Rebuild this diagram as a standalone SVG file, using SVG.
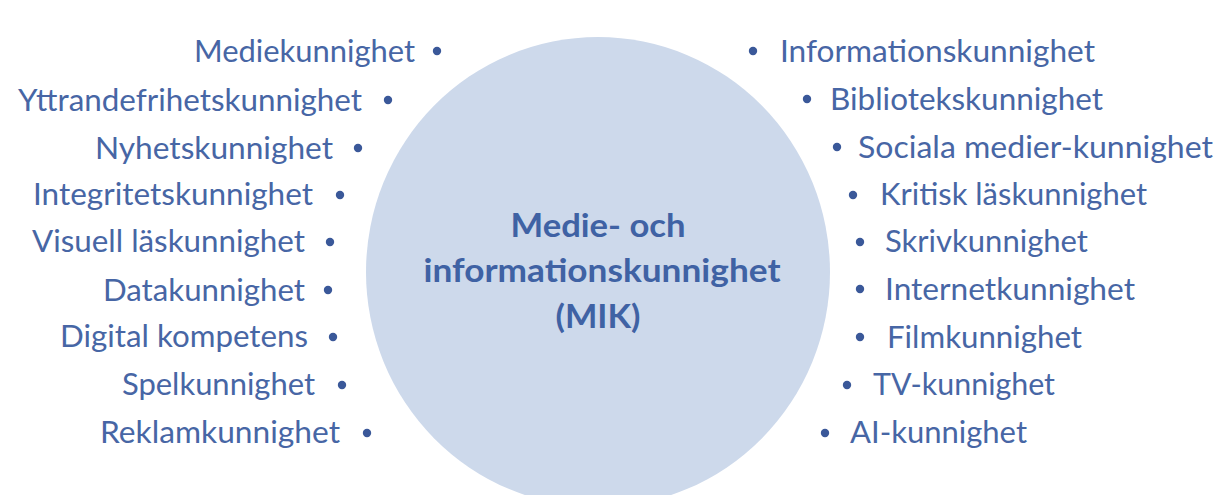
<svg xmlns="http://www.w3.org/2000/svg" width="1223" height="495" viewBox="0 0 1223 495">
<style>
.t{font-family:Lato,"Open Sans","Liberation Sans",sans-serif;font-size:30px;fill:#4766a5}
.l{text-anchor:end}
.b{fill:#3a5899}
.title{font-family:Lato,"Open Sans","Liberation Sans",sans-serif;font-size:32px;font-weight:bold;fill:#3f62a4;text-anchor:middle}
</style>
<rect width="1223" height="495" fill="#ffffff"/>
<g id="center">
<ellipse cx="598" cy="272" rx="232" ry="235" fill="#cdd9eb"/>
<text class="title" x="598" y="237" textLength="175" lengthAdjust="spacingAndGlyphs">Medie- och</text>
<text class="title" x="602" y="282" textLength="357" lengthAdjust="spacingAndGlyphs">informationskunnighet</text>
<text class="title" x="598" y="328" textLength="85" lengthAdjust="spacingAndGlyphs">(MIK)</text>
</g>
<g id="left-items">
<g id="l1"><text class="t l" x="415" y="62" textLength="221" lengthAdjust="spacingAndGlyphs">Mediekunnighet</text><circle class="b" cx="437" cy="51" r="4.2"/></g>
<g id="l2"><text class="t l" x="362" y="111" textLength="344" lengthAdjust="spacingAndGlyphs">Yttrandefrihetskunnighet</text><circle class="b" cx="388" cy="100" r="4.2"/></g>
<g id="l3"><text class="t l" x="333" y="159" textLength="238" lengthAdjust="spacingAndGlyphs">Nyhetskunnighet</text><circle class="b" cx="358" cy="148" r="4.2"/></g>
<g id="l4"><text class="t l" x="313" y="205" textLength="280" lengthAdjust="spacingAndGlyphs">Integritetskunnighet</text><circle class="b" cx="340" cy="195" r="4.2"/></g>
<g id="l5"><text class="t l" x="305" y="252" textLength="273" lengthAdjust="spacingAndGlyphs">Visuell läskunnighet</text><circle class="b" cx="330" cy="242" r="4.2"/></g>
<g id="l6"><text class="t l" x="305" y="301" textLength="202" lengthAdjust="spacingAndGlyphs">Datakunnighet</text><circle class="b" cx="328" cy="290" r="4.2"/></g>
<g id="l7"><text class="t l" x="308" y="347" textLength="248" lengthAdjust="spacingAndGlyphs">Digital kompetens</text><circle class="b" cx="333" cy="337" r="4.2"/></g>
<g id="l8"><text class="t l" x="315" y="395" textLength="193" lengthAdjust="spacingAndGlyphs">Spelkunnighet</text><circle class="b" cx="342" cy="385" r="4.2"/></g>
<g id="l9"><text class="t l" x="340" y="443" textLength="240" lengthAdjust="spacingAndGlyphs">Reklamkunnighet</text><circle class="b" cx="367" cy="433" r="4.2"/></g>
</g>
<g id="right-items">
<g id="r1"><circle class="b" cx="753" cy="51" r="4.2"/><text class="t" x="780" y="62" textLength="315" lengthAdjust="spacingAndGlyphs">Informationskunnighet</text></g>
<g id="r2"><circle class="b" cx="807" cy="99" r="4.2"/><text class="t" x="830" y="110" textLength="273" lengthAdjust="spacingAndGlyphs">Bibliotekskunnighet</text></g>
<g id="r3"><circle class="b" cx="837" cy="147" r="4.2"/><text class="t" x="858" y="158" textLength="355" lengthAdjust="spacingAndGlyphs">Sociala medier-kunnighet</text></g>
<g id="r4"><circle class="b" cx="853" cy="195" r="4.2"/><text class="t" x="880" y="205" textLength="267" lengthAdjust="spacingAndGlyphs">Kritisk läskunnighet</text></g>
<g id="r5"><circle class="b" cx="860" cy="242" r="4.2"/><text class="t" x="885" y="252" textLength="203" lengthAdjust="spacingAndGlyphs">Skrivkunnighet</text></g>
<g id="r6"><circle class="b" cx="860" cy="289" r="4.2"/><text class="t" x="885" y="300" textLength="250" lengthAdjust="spacingAndGlyphs">Internetkunnighet</text></g>
<g id="r7"><circle class="b" cx="860" cy="337" r="4.2"/><text class="t" x="887" y="348" textLength="195" lengthAdjust="spacingAndGlyphs">Filmkunnighet</text></g>
<g id="r8"><circle class="b" cx="847" cy="385" r="4.2"/><text class="t" x="873" y="395" textLength="182" lengthAdjust="spacingAndGlyphs">TV-kunnighet</text></g>
<g id="r9"><circle class="b" cx="825" cy="433" r="4.2"/><text class="t" x="850" y="443" textLength="177" lengthAdjust="spacingAndGlyphs">AI-kunnighet</text></g>
</g>
</svg>
